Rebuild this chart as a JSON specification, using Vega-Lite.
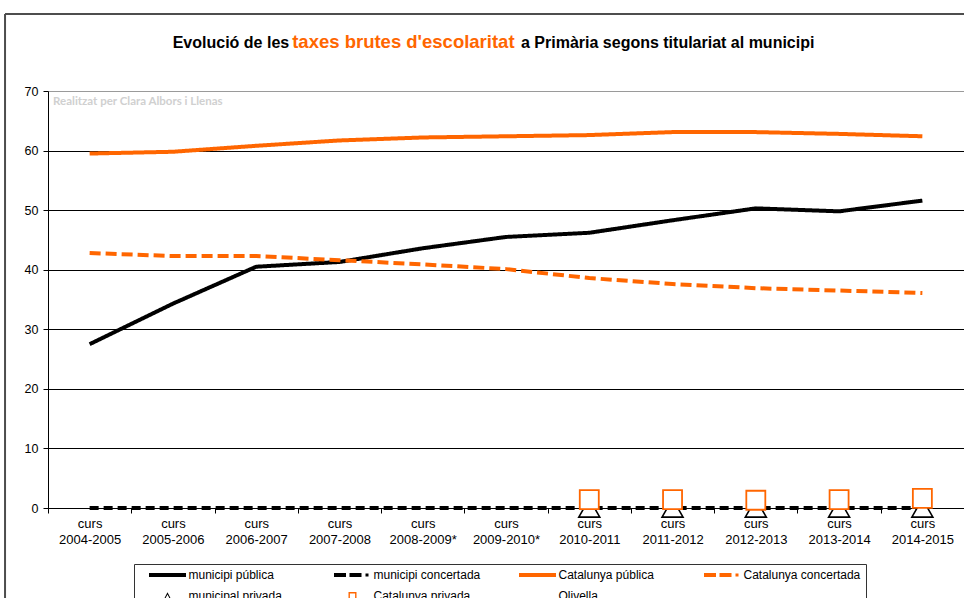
{
  "$schema": "https://vega.github.io/schema/vega-lite/v6.json",
  "width": 916,
  "height": 417,
  "autosize": {"type": "none"},
  "padding": {"left": 48, "top": 91, "right": 0, "bottom": 90},
  "background": "white",
  "config": {
    "view": {"stroke": null},
    "font": "Liberation Sans"
  },
  "datasets": {
    "lines": [
      {"curs": "curs 2004-2005", "series": "municipi pública", "v": 27.5},
      {"curs": "curs 2005-2006", "series": "municipi pública", "v": 34.3},
      {"curs": "curs 2006-2007", "series": "municipi pública", "v": 40.5},
      {"curs": "curs 2007-2008", "series": "municipi pública", "v": 41.3},
      {"curs": "curs 2008-2009*", "series": "municipi pública", "v": 43.6},
      {"curs": "curs 2009-2010*", "series": "municipi pública", "v": 45.5},
      {"curs": "curs 2010-2011", "series": "municipi pública", "v": 46.2},
      {"curs": "curs 2011-2012", "series": "municipi pública", "v": 48.3},
      {"curs": "curs 2012-2013", "series": "municipi pública", "v": 50.3},
      {"curs": "curs 2013-2014", "series": "municipi pública", "v": 49.8},
      {"curs": "curs 2014-2015", "series": "municipi pública", "v": 51.6},
      {"curs": "curs 2004-2005", "series": "municipi concertada", "v": 0},
      {"curs": "curs 2005-2006", "series": "municipi concertada", "v": 0},
      {"curs": "curs 2006-2007", "series": "municipi concertada", "v": 0},
      {"curs": "curs 2007-2008", "series": "municipi concertada", "v": 0},
      {"curs": "curs 2008-2009*", "series": "municipi concertada", "v": 0},
      {"curs": "curs 2009-2010*", "series": "municipi concertada", "v": 0},
      {"curs": "curs 2010-2011", "series": "municipi concertada", "v": 0},
      {"curs": "curs 2011-2012", "series": "municipi concertada", "v": 0},
      {"curs": "curs 2012-2013", "series": "municipi concertada", "v": 0},
      {"curs": "curs 2013-2014", "series": "municipi concertada", "v": 0},
      {"curs": "curs 2014-2015", "series": "municipi concertada", "v": 0},
      {"curs": "curs 2004-2005", "series": "Catalunya concertada", "v": 42.8},
      {"curs": "curs 2005-2006", "series": "Catalunya concertada", "v": 42.3},
      {"curs": "curs 2006-2007", "series": "Catalunya concertada", "v": 42.3},
      {"curs": "curs 2007-2008", "series": "Catalunya concertada", "v": 41.6},
      {"curs": "curs 2008-2009*", "series": "Catalunya concertada", "v": 40.9},
      {"curs": "curs 2009-2010*", "series": "Catalunya concertada", "v": 40.1},
      {"curs": "curs 2010-2011", "series": "Catalunya concertada", "v": 38.6},
      {"curs": "curs 2011-2012", "series": "Catalunya concertada", "v": 37.6},
      {"curs": "curs 2012-2013", "series": "Catalunya concertada", "v": 36.9},
      {"curs": "curs 2013-2014", "series": "Catalunya concertada", "v": 36.5},
      {"curs": "curs 2014-2015", "series": "Catalunya concertada", "v": 36.1},
      {"curs": "curs 2004-2005", "series": "Catalunya pública", "v": 59.5},
      {"curs": "curs 2005-2006", "series": "Catalunya pública", "v": 59.8},
      {"curs": "curs 2006-2007", "series": "Catalunya pública", "v": 60.8},
      {"curs": "curs 2007-2008", "series": "Catalunya pública", "v": 61.7},
      {"curs": "curs 2008-2009*", "series": "Catalunya pública", "v": 62.2},
      {"curs": "curs 2009-2010*", "series": "Catalunya pública", "v": 62.4},
      {"curs": "curs 2010-2011", "series": "Catalunya pública", "v": 62.6},
      {"curs": "curs 2011-2012", "series": "Catalunya pública", "v": 63.1},
      {"curs": "curs 2012-2013", "series": "Catalunya pública", "v": 63.1},
      {"curs": "curs 2013-2014", "series": "Catalunya pública", "v": 62.8},
      {"curs": "curs 2014-2015", "series": "Catalunya pública", "v": 62.4}
    ],
    "markers": [
      {"curs": "curs 2010-2011", "series": "municipal privada", "v": 0},
      {"curs": "curs 2011-2012", "series": "municipal privada", "v": 0},
      {"curs": "curs 2012-2013", "series": "municipal privada", "v": 0},
      {"curs": "curs 2013-2014", "series": "municipal privada", "v": 0},
      {"curs": "curs 2014-2015", "series": "municipal privada", "v": 0},
      {"curs": "curs 2010-2011", "series": "Catalunya privada", "v": 1.4},
      {"curs": "curs 2011-2012", "series": "Catalunya privada", "v": 1.4},
      {"curs": "curs 2012-2013", "series": "Catalunya privada", "v": 1.3},
      {"curs": "curs 2013-2014", "series": "Catalunya privada", "v": 1.4},
      {"curs": "curs 2014-2015", "series": "Catalunya privada", "v": 1.6}
    ]
  },
  "layer": [
    {
      "data": {"values": [{"frame": 1}]},
      "mark": {"type": "rule", "color": "#4d4d4d", "strokeWidth": 2},
      "encoding": {
        "x": {"datum": "curs 2004-2005", "bandPosition": -0.516},
        "y": {"datum": 82.93},
        "y2": {"datum": -20}
      }
    },
    {
      "data": {"values": [{"frame": 1}]},
      "mark": {"type": "rule", "color": "#4d4d4d", "strokeWidth": 2},
      "encoding": {
        "x": {"datum": "curs 2004-2005", "bandPosition": -0.516},
        "x2": {"datum": "curs 2014-2015"},
        "y": {"datum": 82.93}
      }
    },
    {
      "data": {"values": [{"frame": 1}]},
      "mark": {"type": "rule", "color": "#4d4d4d", "strokeWidth": 2},
      "encoding": {
        "y": {"datum": 82.93}
      }
    },
    {
      "data": {"name": "lines"},
      "mark": {"type": "line", "strokeWidth": 4, "strokeCap": "butt", "strokeJoin": "round"},
      "encoding": {
        "x": {
          "field": "curs",
          "type": "nominal",
          "sort": null,
          "scale": {
            "type": "band",
            "paddingInner": 0,
            "paddingOuter": 0,
            "domain": ["curs 2004-2005", "curs 2005-2006", "curs 2006-2007", "curs 2007-2008", "curs 2008-2009*", "curs 2009-2010*", "curs 2010-2011", "curs 2011-2012", "curs 2012-2013", "curs 2013-2014", "curs 2014-2015"]
          },
          "axis": {
            "title": null,
            "labelExpr": "split(datum.label, ' ')",
            "labelAngle": 0,
            "labelAlign": "center",
            "labelLineHeight": 16,
            "tickBand": "extent",
            "tickSize": 5,
            "tickColor": "black",
            "domainColor": "black",
            "labelColor": "black",
            "labelFont": "Liberation Sans",
            "labelFontSize": 13,
            "labelPadding": 10,
            "grid": false
          }
        },
        "y": {
          "field": "v",
          "type": "quantitative",
          "scale": {"domain": [0, 70], "nice": false},
          "axis": {
            "title": null,
            "values": [0, 10, 20, 30, 40, 50, 60, 70],
            "grid": true,
            "gridColor": {"condition": {"test": "datum.value === 70", "value": "#9a9a9a"}, "value": "black"},
            "gridWidth": 1,
            "tickSize": 5,
            "tickColor": "black",
            "domainColor": "black",
            "labelColor": "black",
            "labelFont": "Liberation Sans",
            "labelFontSize": 12.5,
            "labelPadding": 5
          }
        },
        "color": {
          "field": "series",
          "type": "nominal",
          "scale": {
            "domain": ["municipi pública", "municipi concertada", "municipal privada", "Catalunya pública", "Catalunya concertada", "Catalunya privada", "Olivella"],
            "range": ["#000000", "#000000", "#000000", "#ff6600", "#ff6600", "#ff6600", "#999999"]
          },
          "legend": null
        },
        "strokeDash": {
          "field": "series",
          "type": "nominal",
          "scale": {
            "domain": ["municipi pública", "municipi concertada", "Catalunya pública", "Catalunya concertada"],
            "range": [[1, 0], [9, 5], [1, 0], [11, 5]]
          },
          "legend": null
        },
        "detail": {"field": "series"}
      }
    },
    {
      "data": {"name": "markers"},
      "transform": [{"filter": "datum.series === 'municipal privada'"}],
      "mark": {"type": "point", "shape": "triangle-up", "size": 441, "strokeWidth": 1.6, "filled": false, "opacity": 1},
      "encoding": {
        "x": {"field": "curs", "type": "nominal", "sort": null},
        "y": {"field": "v", "type": "quantitative"},
        "color": {"field": "series", "type": "nominal", "legend": null},
        "fill": {"value": "white"}
      }
    },
    {
      "data": {"name": "markers"},
      "transform": [{"filter": "datum.series === 'Catalunya privada'"}],
      "mark": {"type": "point", "shape": "square", "size": 361, "strokeWidth": 1.8, "filled": false, "opacity": 1},
      "encoding": {
        "x": {"field": "curs", "type": "nominal", "sort": null},
        "y": {"field": "v", "type": "quantitative"},
        "color": {"field": "series", "type": "nominal", "legend": null},
        "fill": {"value": "white"}
      }
    },
    {
      "data": {"name": "markers"},
      "mark": {"type": "point", "filled": true, "opacity": 0},
      "encoding": {
        "x": {"field": "curs", "type": "nominal", "sort": null},
        "y": {"field": "v", "type": "quantitative"},
        "shape": {
          "field": "series",
          "type": "nominal",
          "scale": {
            "domain": ["municipi pública", "municipi concertada", "Catalunya pública", "Catalunya concertada", "municipal privada", "Catalunya privada", "Olivella"],
            "range": [
              "M-3.7,-0.4H3.7V0.4H-3.7Z",
              "M-3.7,-0.4H-1.3V0.4H-3.7ZM-0.6,-0.4H1.8V0.4H-0.6ZM2.6,-0.3H3.2V0.3H2.6Z",
              "M-3.7,-0.4H3.7V0.4H-3.7Z",
              "M-3.7,-0.4H-1.3V0.4H-3.7ZM-0.6,-0.4H1.8V0.4H-0.6ZM2.6,-0.3H3.2V0.3H2.6Z",
              "M0,-0.75L0.7,0.6L-0.7,0.6ZM0,-0.316L-0.371,0.4L0.371,0.4Z",
              "M-0.8,-0.8H0.8V0.8H-0.8ZM-0.52,-0.52V0.52H0.52V-0.52Z",
              "M0,0"
            ]
          },
          "legend": {
            "title": " ",
            "titleOrient": "left",
            "titlePadding": 10,
            "orient": "none",
            "direction": "horizontal",
            "legendX": 86,
            "legendY": 473,
            "columns": 4,
            "gridAlign": "all",
            "columnPadding": 28,
            "rowPadding": 9,
            "padding": 5,
            "strokeColor": "#333333",
            "fillColor": "white",
            "symbolSize": 100,
            "symbolOffset": 12.5,
            "symbolFillColor": "black",
            "symbolStrokeColor": "transparent",
            "symbolStrokeWidth": 0,
            "symbolOpacity": 1,
            "labelOffset": 15,
            "labelFont": "Liberation Sans",
            "labelFontSize": 12,
            "labelColor": "black",
            "labelLimit": 0,
            "encode": {
              "symbols": {
                "update": {
                  "fill": {"scale": "color", "field": "value"},
                  "stroke": {"value": "transparent"},
                  "strokeWidth": {"value": 0},
                  "opacity": {"value": 1}
                }
              }
            }
          }
        },
        "color": {"field": "series", "type": "nominal", "legend": null}
      }
    },
    {
      "data": {"values": [{"t": "Realitzat per Clara Albors i Llenas"}]},
      "mark": {"type": "text", "align": "left", "baseline": "middle", "dx": -36.6, "font": "Lato", "fontWeight": "bold", "fontSize": 11.5, "color": "#d0d0d0"},
      "encoding": {
        "x": {"datum": "curs 2004-2005"},
        "y": {"datum": 68.15},
        "text": {"field": "t"}
      }
    },
    {
      "data": {"values": [{"t": "Evolució de les"}]},
      "mark": {"type": "text", "align": "right", "baseline": "alphabetic", "dx": 33, "font": "Liberation Sans", "fontWeight": "bold", "fontSize": 16, "color": "black"},
      "encoding": {
        "x": {"datum": "curs 2006-2007"},
        "y": {"datum": 77.2},
        "text": {"field": "t"}
      }
    },
    {
      "data": {"values": [{"t": "taxes brutes d'escolaritat"}]},
      "mark": {"type": "text", "align": "left", "baseline": "alphabetic", "dx": 36, "font": "Liberation Sans", "fontWeight": "bold", "fontSize": 18.5, "color": "#ff6600"},
      "encoding": {
        "x": {"datum": "curs 2006-2007"},
        "y": {"datum": 77.2},
        "text": {"field": "t"}
      }
    },
    {
      "data": {"values": [{"t": "a Primària segons titulariat al municipi"}]},
      "mark": {"type": "text", "align": "left", "baseline": "alphabetic", "dx": 15, "font": "Liberation Sans", "fontWeight": "bold", "fontSize": 16, "color": "black"},
      "encoding": {
        "x": {"datum": "curs 2009-2010*"},
        "y": {"datum": 77.2},
        "text": {"field": "t"}
      }
    }
  ]
}
